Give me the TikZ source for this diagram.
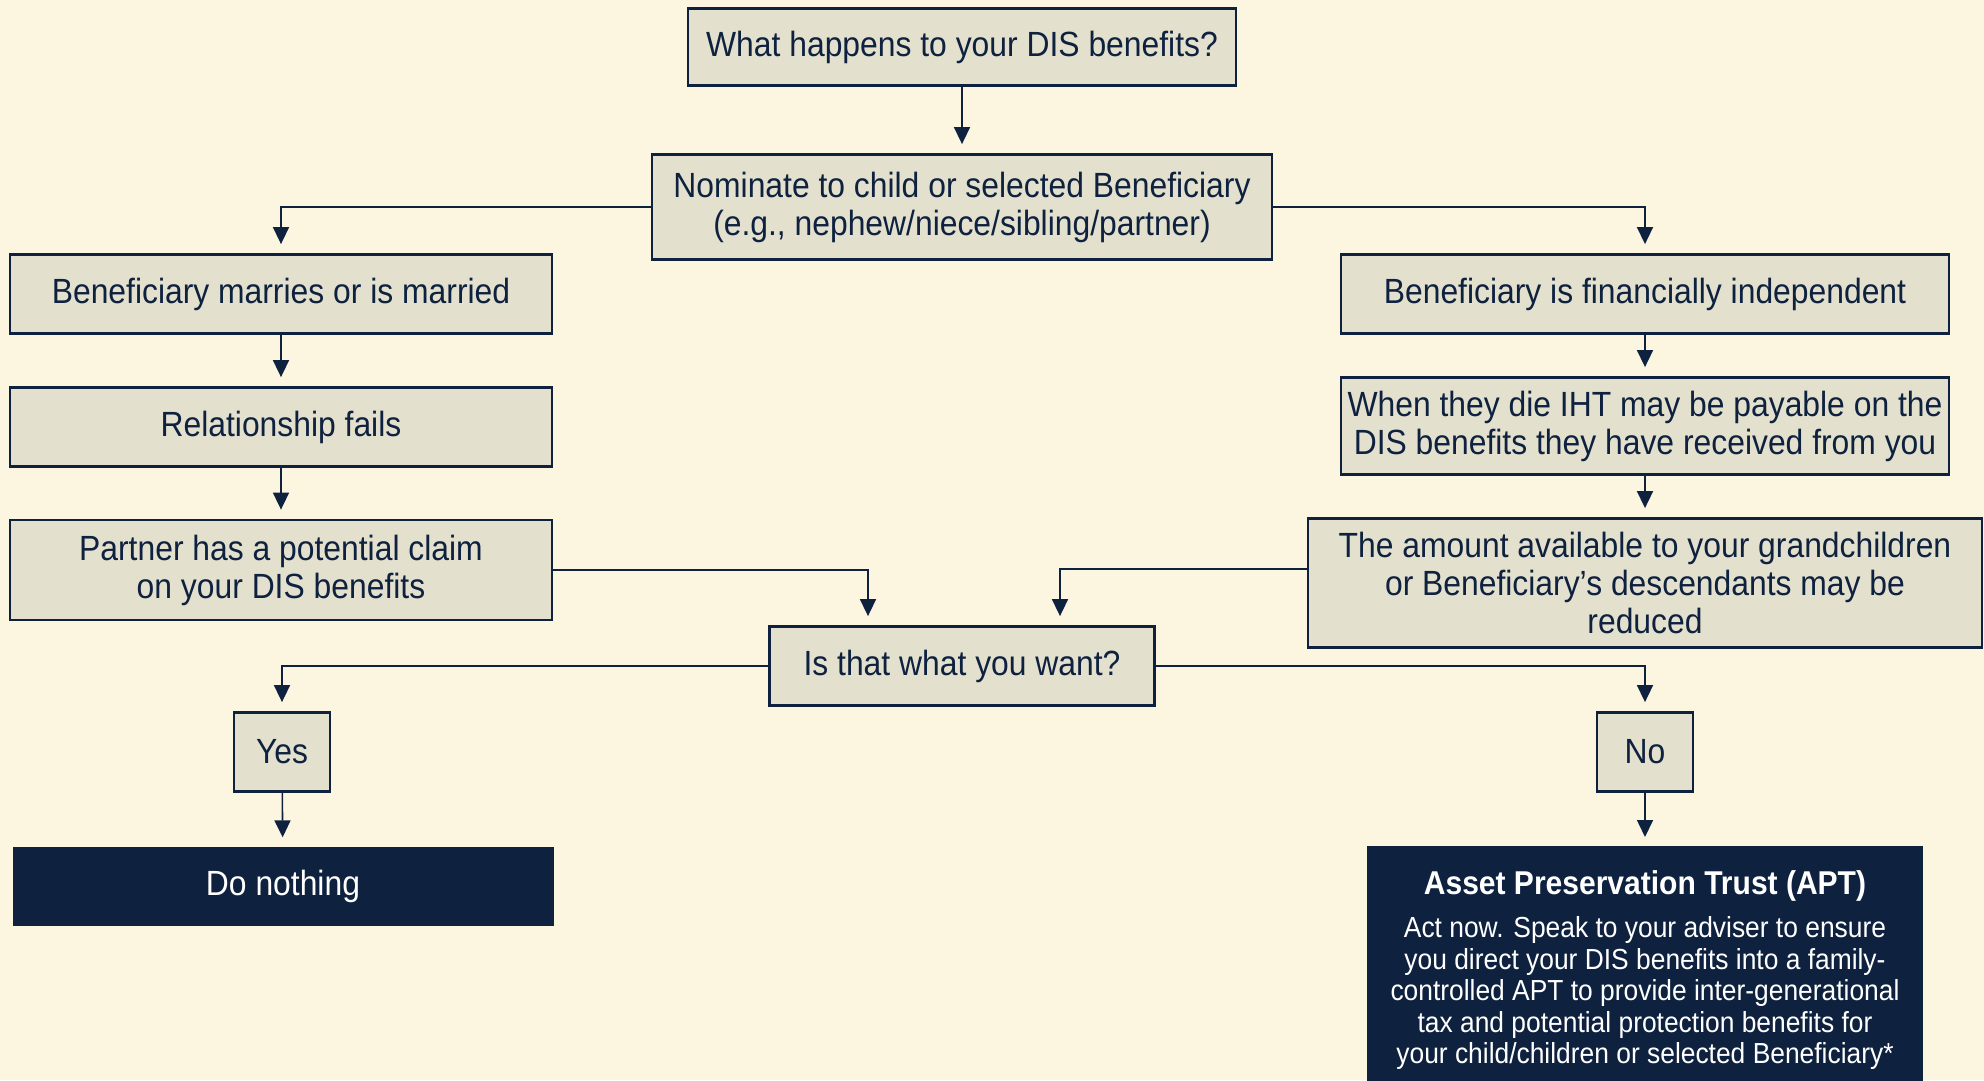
\documentclass[tikz,border=0pt]{standalone}
\usepackage{fontspec}
\setmainfont[FakeStretch=0.91]{Liberation Sans}
\usetikzlibrary{arrows.meta}
\definecolor{navy}{HTML}{0E213F}
\definecolor{cream}{HTML}{FCF6E0}
\definecolor{boxfill}{HTML}{E3E0CD}
\tikzset{
	stepbox/.style={draw=navy, fill=boxfill, line width=2.8pt, text=navy, inner sep=0pt, align=center, font=\fontsize{35}{38}\selectfont},
	endbox/.style={fill=navy, text=white, inner sep=0pt, align=center, font=\fontsize{35}{38}\selectfont},
	arr/.style={draw=navy, line width=1.6pt, -{Triangle[width=16pt,length=17pt]}, shorten >=9pt},
}

\begin{document}
\begin{tikzpicture}[x=1pt, y=-1pt]
			%%%%% START %%%%%
			
			\fill[cream] (0, 0) rectangle (1984, 1080);
			\clip (0, 0) rectangle (1984, 1080);
			
			\node[stepbox, minimum width=548pt, minimum height=77pt] (what) at (962, 47) {What happens to your DIS benefits?};
			\node[stepbox, minimum width=620pt, minimum height=105pt] (nominate) at (962, 207) {Nominate to child or selected Beneficiary\\(e.g., nephew/niece/sibling/partner)};
			
			\node[stepbox, minimum width=542pt, minimum height=79pt] (marries) at (281, 294) {Beneficiary marries or is married};
			\node[stepbox, minimum width=542pt, minimum height=79pt] (fails) at (281, 427) {Relationship fails};
			\node[stepbox, minimum width=542pt, minimum height=100pt] (claim) at (281, 570) {Partner has a potential claim\\on your DIS benefits};
			
			\node[stepbox, minimum width=608pt, minimum height=79pt] (indep) at (1645, 294) {Beneficiary is financially independent};
			\node[stepbox, minimum width=608pt, minimum height=97pt] (iht) at (1645, 426) {When they die IHT may be payable on the\\DIS benefits they have received from you};
			\node[stepbox, minimum width=674pt, minimum height=129pt] (amount) at (1645, 583) {The amount available to your grandchildren\\or Beneficiary’s descendants may be\\reduced};
			
			\node[stepbox, minimum width=385pt, minimum height=79pt] (want) at (962, 666) {Is that what you want?};
			
			\node[stepbox, minimum width=96pt, minimum height=79pt] (yes) at (282, 752) {Yes};
			\node[stepbox, minimum width=96pt, minimum height=79pt] (no) at (1645, 752) {No};
			
			\node[endbox, minimum width=541pt, minimum height=79pt] (nothing) at (283, 886) {Do nothing};
			\node[endbox, anchor=north, minimum width=556pt, inner ysep=24pt, font=\fontsize{29}{31.5}\selectfont] (apt) at (1645, 846) {{\bfseries\fontsize{33}{36}\selectfont Asset Preservation Trust (APT)}\\[12pt]Act now. Speak to your adviser to ensure\\you direct your DIS benefits into a family-\\controlled APT to provide inter-generational\\tax and potential protection benefits for\\your child/children or selected Beneficiary*\\ \\};
			
			\draw[arr] (what) -- (nominate);
			\draw[arr] (nominate.west) -| (marries.north);
			\draw[arr] (nominate.east) -| (indep.north);
			
			\draw[arr] (marries) -- (fails);
			\draw[arr] (fails) -- (claim);
			\draw[arr] (claim.east) -| ([xshift=-94pt]want.north);
			
			\draw[arr] (indep) -- (iht);
			\draw[arr] (iht) -- (amount);
			\draw[arr] ([yshift=14pt]amount.west) -| ([xshift=98pt]want.north);
			
			\draw[arr] (want.west) -| (yes.north);
			\draw[arr] (want.east) -| (no.north);
			\draw[arr] (yes) -- (nothing);
			\draw[arr] (no) -- (apt);
			
			%%%%% END %%%%%
\end{tikzpicture}
\end{document}
